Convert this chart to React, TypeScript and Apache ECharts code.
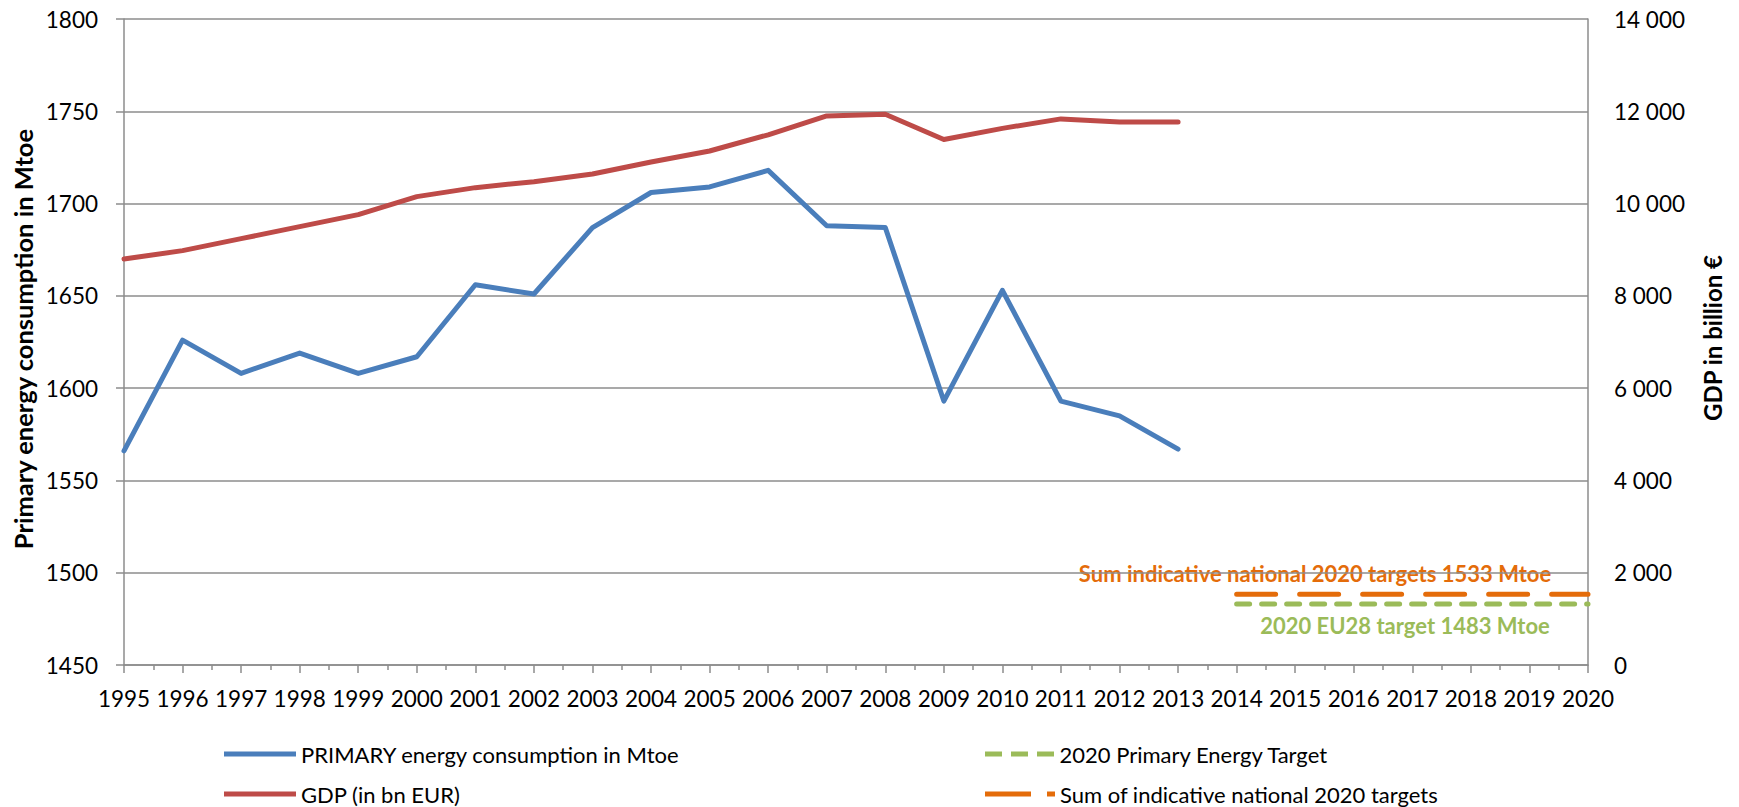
import React, { useEffect, useRef } from "react";
import * as echarts from "echarts";

const years = [1995, 1996, 1997, 1998, 1999, 2000, 2001, 2002, 2003, 2004, 2005, 2006, 2007, 2008, 2009, 2010, 2011, 2012, 2013];
const primaryEnergy = [1566, 1626, 1608, 1619, 1608, 1617, 1656, 1651, 1687, 1706, 1709, 1718, 1688, 1687, 1593, 1653, 1593, 1585, 1567];
const gdp = [8800, 8980, 9240, 9500, 9760, 10150, 10345, 10475, 10640, 10900, 11140, 11490, 11900, 11935, 11390, 11630, 11835, 11770, 11770];
const targetYears = [2014, 2015, 2016, 2017, 2018, 2019, 2020];
const euTarget = [1483, 1483, 1483, 1483, 1483, 1483, 1483];
const nationalTargets = [1533, 1533, 1533, 1533, 1533, 1533, 1533];

const NAME_PRIMARY = "PRIMARY energy consumption in Mtoe";
const NAME_GDP = "GDP (in bn EUR)";
const NAME_EU = "2020 Primary Energy Target";
const NAME_NAT = "Sum of indicative national 2020 targets";

const BLUE = "#4A7EBB";
const RED = "#BE4B48";
const GREEN = "#9BBB59";
const ORANGE = "#E46C0A";
const GRID = "#8C8C8C";
const FONT = "Lato";

const pair = (xs: number[], ys: number[]) => xs.map((x, i) => [x, ys[i]]);

const legendItem = (name: string, icon: string, left: number, top: number, width: number) => ({
  left,
  top,
  orient: "horizontal",
  padding: 0,
  itemWidth: width,
  itemHeight: 5,
  textStyle: { color: "#000", fontFamily: FONT, fontSize: 22, lineHeight: 22 },
  data: [{ name, icon }],
});

export default function App() {
  const ref = useRef<HTMLDivElement>(null);
  useEffect(() => {
    const chart = echarts.init(ref.current!, null, { renderer: "svg" });
    const labelStyle = { color: "#000", fontFamily: FONT, fontSize: 22.5 };
    chart.setOption({
      animation: false,
      backgroundColor: "#fff",
      textStyle: { fontFamily: FONT },
      grid: { left: 124, top: 19, width: 1464, height: 646 },
      xAxis: {
        type: "value",
        min: 1995,
        max: 2020,
        interval: 1,
        axisLine: { show: true, onZero: false, lineStyle: { color: GRID, width: 1.5 } },
        axisTick: { show: true, length: 8, lineStyle: { color: GRID, width: 1.5 } },
        minorTick: { show: true, splitNumber: 2, length: 5, lineStyle: { color: GRID, width: 1.5 } },
        splitLine: { show: false },
        axisLabel: { ...labelStyle, margin: 22, formatter: (v: number) => String(v) },
      },
      yAxis: [
        {
          type: "value",
          min: 1450,
          max: 1800,
          interval: 50,
          position: "left",
          axisLine: { show: true, onZero: false, lineStyle: { color: GRID, width: 1.5 } },
          axisTick: { show: true, length: 8, lineStyle: { color: GRID, width: 1.5 } },
          splitLine: { show: true, lineStyle: { color: GRID, width: 1.5 } },
          axisLabel: { ...labelStyle, margin: 26, formatter: (v: number) => String(v) },
        },
        {
          type: "value",
          min: 0,
          max: 14000,
          interval: 2000,
          position: "right",
          axisLine: { show: true, onZero: false, lineStyle: { color: GRID, width: 1.5 } },
          axisTick: { show: false },
          splitLine: { show: false },
          axisLabel: {
            ...labelStyle,
            margin: 26,
            formatter: (v: number) =>
              v >= 1000 ? `${Math.floor(v / 1000)} ${String(v % 1000).padStart(3, "0")}` : String(v),
          },
        },
      ],
      legend: [
        legendItem(NAME_PRIMARY, "path://M0,0H72V5H0Z", 224, 743, 72),
        legendItem(NAME_GDP, "path://M0,0H72V5H0Z", 224, 783, 72),
        legendItem(NAME_EU, "path://M0,0H17V5H0Z M26,0H43V5H26Z M52,0H69V5H52Z", 985, 743, 70),
        legendItem(NAME_NAT, "path://M0,0H46V5H0Z M62,0H70V5H62Z", 985, 783, 70),
      ],
      series: [
        {
          name: NAME_PRIMARY,
          type: "line",
          yAxisIndex: 0,
          data: pair(years, primaryEnergy),
          symbol: "none",
          color: BLUE,
          lineStyle: { color: BLUE, width: 5, cap: "round", join: "round" },
        },
        {
          name: NAME_GDP,
          type: "line",
          yAxisIndex: 1,
          data: pair(years, gdp),
          symbol: "none",
          color: RED,
          lineStyle: { color: RED, width: 5, cap: "round", join: "round" },
        },
        {
          name: NAME_EU,
          type: "line",
          yAxisIndex: 0,
          data: pair(targetYears, euTarget),
          symbol: "none",
          color: GREEN,
          lineStyle: { color: GREEN, width: 5, type: [13, 12], cap: "round" },
        },
        {
          name: NAME_NAT,
          type: "line",
          yAxisIndex: 1,
          data: pair(targetYears, nationalTargets),
          symbol: "none",
          color: ORANGE,
          lineStyle: { color: ORANGE, width: 5, type: [39, 24], cap: "round" },
        },
      ],
      graphic: [
        {
          type: "text",
          x: 23,
          y: 339,
          rotation: Math.PI / 2,
          style: {
            text: "Primary energy consumption in Mtoe",
            fill: "#000",
            fontFamily: FONT,
            fontWeight: "bold",
            fontSize: 25.5,
            align: "center",
            verticalAlign: "middle",
          },
        },
        {
          type: "text",
          x: 1712,
          y: 338,
          rotation: Math.PI / 2,
          style: {
            text: "GDP in billion €",
            fill: "#000",
            fontFamily: FONT,
            fontWeight: "bold",
            fontSize: 24,
            align: "center",
            verticalAlign: "middle",
          },
        },
        {
          type: "text",
          x: 1315,
          y: 573,
          style: {
            text: "Sum indicative national 2020 targets 1533 Mtoe",
            fill: ORANGE,
            fontFamily: FONT,
            fontWeight: "bold",
            fontSize: 22,
            align: "center",
            verticalAlign: "middle",
          },
        },
        {
          type: "text",
          x: 1405,
          y: 625,
          style: {
            text: "2020 EU28 target 1483 Mtoe",
            fill: GREEN,
            fontFamily: FONT,
            fontWeight: "bold",
            fontSize: 22,
            align: "center",
            verticalAlign: "middle",
          },
        },
      ],
    });
    return () => chart.dispose();
  }, []);
  return (
    <div
      ref={ref}
      style={{ position: "fixed", left: 0, top: 0, width: 1739, height: 807, background: "#fff" }}
    />
  );
}
